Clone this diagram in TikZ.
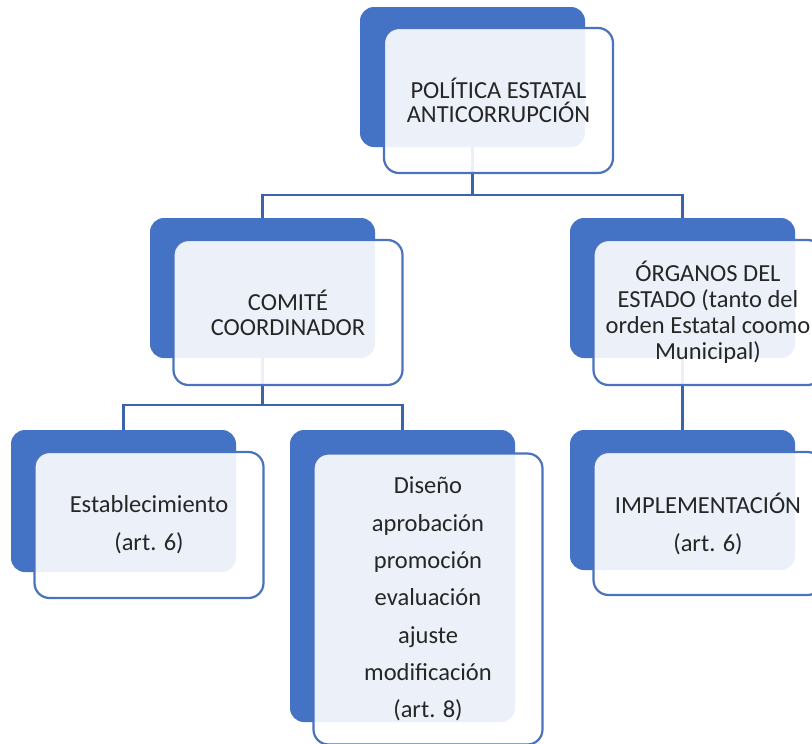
\documentclass[tikz,border=0pt]{standalone}
\usepackage{fontspec}
\setmainfont{Carlito}
\definecolor{blu}{HTML}{4472C4}
\definecolor{edge}{HTML}{4A72BE}
\definecolor{ink}{HTML}{262626}
\begin{document}
\begin{tikzpicture}[x=1pt,y=-1pt,
  back/.style={fill=blu, rounded corners=14pt, inner sep=0pt, outer sep=0pt, minimum width=225pt},
  front/.style={draw=edge, line width=2.2pt, fill=white, fill opacity=0.9, text opacity=1,
    rounded corners=15pt, inner sep=0pt, outer sep=0pt, minimum width=229pt, align=center, text=ink},
  conn/.style={draw=blu!88!black, line width=2.2pt}]
\useasboundingbox (0,0) rectangle (812,744);
\fill[white] (0,0) rectangle (812,744);
\clip (0,0) rectangle (812,744);
% back boxes
\node[back, minimum height=140pt] (b1) at (472.5,77) {};
\node[back, minimum height=140pt] (b2) at (262.5,288) {};
\node[back, minimum height=140pt] (b3) at (682.5,288) {};
\node[back, minimum height=142pt] (b4) at (123.5,501) {};
\node[back, minimum height=292pt] (b5) at (402.5,576) {};
\node[back, minimum height=140pt] (b6) at (682.5,500) {};
% connectors
\coordinate (j1) at (472.5,195);
\coordinate (j2) at (262.5,405);
\draw[conn] (b1.south) -- (j1);
\draw[conn] (b2.north) |- (j1) -| (b3.north);
\draw[conn] (b2.south) -- (j2);
\draw[conn] (b4.north) |- (j2) -| (b5.north);
\draw[conn] (b3.south) -- (b6.north);
% front boxes
\node[front, minimum height=145pt, font=\fontsize{24.5}{24.5}\selectfont] (f1) at (498.5,100.5) {POLÍTICA ESTATAL\\ANTICORRUPCIÓN};
\node[front, minimum height=145pt, font=\fontsize{24.5}{25}\selectfont] (f2) at (288,312.5) {COMITÉ\\COORDINADOR};
\node[front, minimum height=145pt, font=\fontsize{24.5}{26}\selectfont] (f3) at (708,312.5) {ÓRGANOS DEL\\ESTADO (tanto del\\orden Estatal coomo\\Municipal)};
\node[front, minimum height=146pt, font=\fontsize{24.5}{38}\selectfont] (f4) at (149,525) {Establecimiento\\(art. 6)};
\node[front, minimum height=291pt, font=\fontsize{24.5}{37.3}\selectfont] (f5) at (428,599) {Diseño\\aprobación\\promoción\\evaluación\\ajuste\\modificación\\(art. 8)};
\node[front, minimum height=143pt, font=\fontsize{24.5}{38}\selectfont] (f6) at (708,523.5) {IMPLEMENTACIÓN\\(art. 6)};
\end{tikzpicture}
\end{document}
